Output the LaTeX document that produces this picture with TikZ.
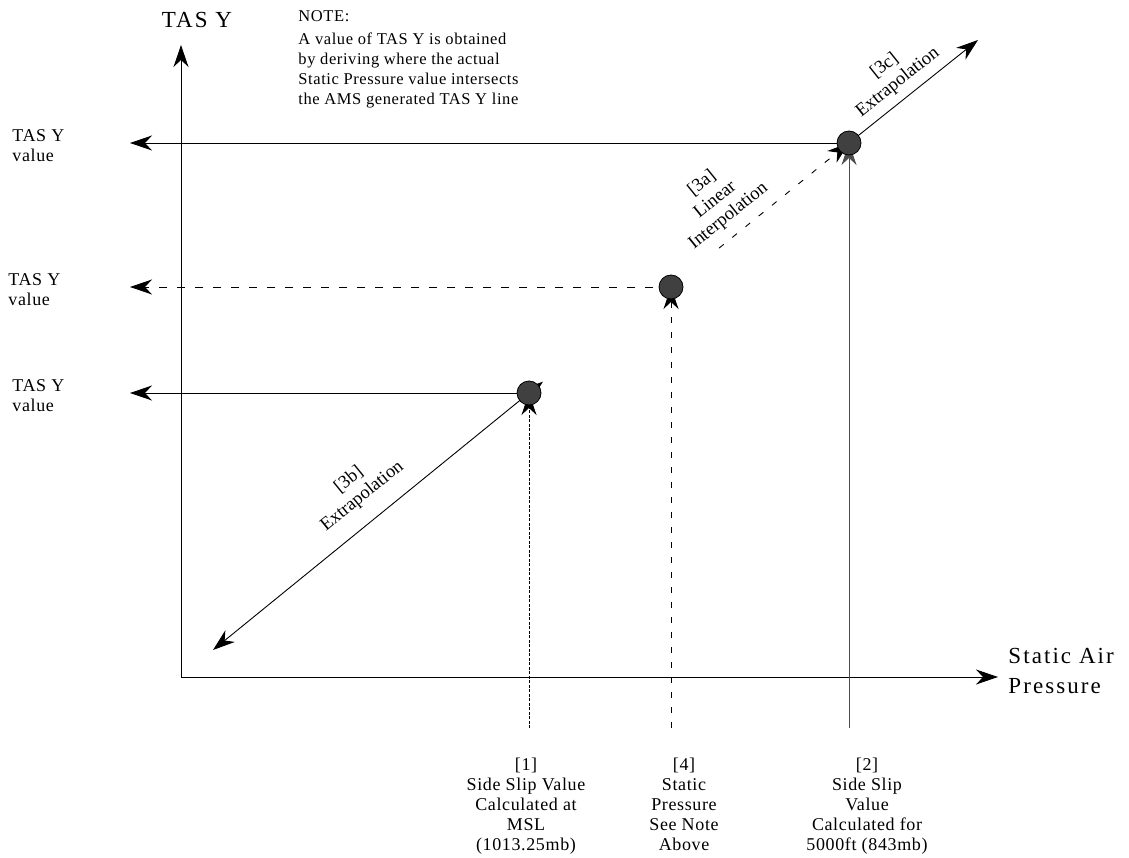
\documentclass[tikz,border=0pt]{standalone}
\usepackage{fontspec}
\setmainfont{Liberation Serif}
\newfontfamily\diagfont[LetterSpace=3.5]{Liberation Serif}
\newfontfamily\axisfont[LetterSpace=9]{Liberation Serif}
\usetikzlibrary{arrows.meta,positioning,calc}
\tikzset{
  arr/.style={-{Stealth[length=22pt,width=15pt,inset=7pt]}},
  twoarr/.style={{Stealth[length=22pt,width=15pt,inset=7pt]}-{Stealth[length=22pt,width=15pt,inset=7pt]}},
  ptdot/.style={circle,fill=black!75,draw=black,line width=0.8pt,minimum size=24pt,inner sep=0pt},
  smalltxt/.style={font=\diagfont\fontsize{18}{20}\selectfont,align=center,inner sep=2pt},
  slopetxt/.style={font=\fontsize{18.5}{21}\selectfont,align=center,inner sep=2pt,sloped},
  bigtxt/.style={font=\axisfont\fontsize{23}{30}\selectfont,align=left,inner sep=0pt},
}
\begin{document}
\begin{tikzpicture}[x=1pt,y=-1pt,line width=0.9pt]
\useasboundingbox (0,0) rectangle (1129,858);

% axes
\coordinate (orig) at (181,677);
\coordinate (ytop) at (181,45);
\coordinate (xend) at (998,677);
\draw[arr] (orig) -- (ytop);
\draw[arr] (orig) -- (xend);
\node[bigtxt] (ylab) at (197,20) {TAS Y};
\node[bigtxt,anchor=west] (xlab) at (1008,671) {Static Air\\Pressure};

% note
\node[smalltxt,font=\diagfont\fontsize{16.5}{20}\selectfont,align=left,anchor=north west] (note) at (296,8)
  {NOTE:\\[3pt]A value of TAS Y is obtained\\by deriving where the actual\\Static Pressure value intersects\\the AMS generated TAS Y line};

% points and line ends
\coordinate (c1) at (529,393);
\coordinate (c4) at (671,287);
\coordinate (c2) at (849,143);
\coordinate (l1) at (130,393);
\coordinate (l4) at (130,287);
\coordinate (l2) at (130,143);
\coordinate (f1) at (529,728);
\coordinate (f4) at (671,728);
\coordinate (f2) at (849,728);

% read-off lines
\draw[arr] (c2) -- (l2);
\draw[arr,dash pattern=on 8pt off 10pt] (c4) -- (l4);
\draw[arr] (c1) -- (l1);
\draw[arr,line width=0.7pt,dash pattern=on 3pt off 1.5pt] (f1) -- (c1);
\draw[arr,dash pattern=on 6pt off 9pt] (f4) -- (c4);
\draw[arr,black!70] (f2) -- (c2);

% extrapolation / interpolation
\coordinate (e3b) at (213,650);
\coordinate (s3b) at ($(c1)!-18pt!(e3b)$);
\draw[twoarr] (e3b) -- (s3b)
  node[slopetxt,pos=0.5,above=14pt] (t3b) {[3b]\\Extrapolation};
\coordinate (e3c) at (978,40);
\draw[arr] (c2) -- (e3c)
  node[slopetxt,pos=0.46,above=6pt] (t3c) {[3c]\\Extrapolation};
\coordinate (s3a) at ($(c4)!0.27!(c2)$);
\draw[arr,dash pattern=on 6pt off 11pt] (s3a) -- (c2);
\path (c4) -- (c2)
  node[slopetxt,pos=0.39,above=8pt] (t3a) {[3a]\\Linear\\Interpolation};

\node[ptdot] (p1) at (c1) {};
\node[ptdot] (p4) at (c4) {};
\node[ptdot] (p2) at (c2) {};

% value labels
\node[smalltxt,align=left,anchor=west] (v2) at (10,146) {TAS Y\\value};
\node[smalltxt,align=left,anchor=west] (v4) at (6,290) {TAS Y\\value};
\node[smalltxt,align=left,anchor=west] (v1) at (10,396) {TAS Y\\value};

\node[smalltxt,anchor=north] (b1) at (526,756) {[1]\\Side Slip Value\\Calculated at\\MSL\\(1013.25mb)};
\node[smalltxt,anchor=north] (b4) at (684,756) {[4]\\Static\\Pressure\\See Note\\Above};
\node[smalltxt,anchor=north] (b2) at (867,756) {[2]\\Side Slip\\Value\\Calculated for\\5000ft (843mb)};
\end{tikzpicture}
\end{document}
